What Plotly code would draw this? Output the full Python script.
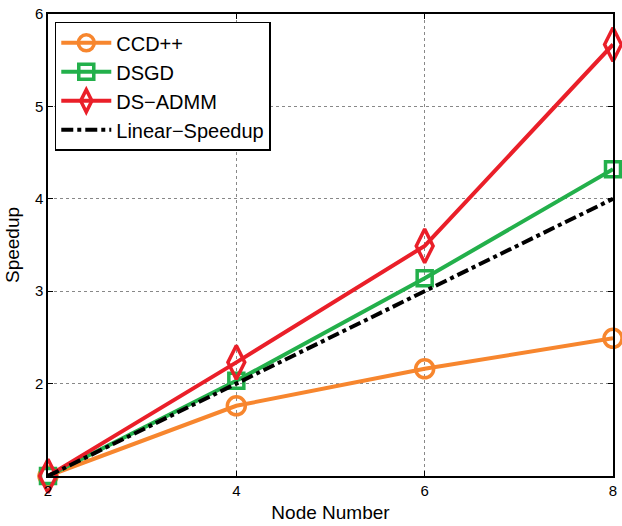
import plotly.graph_objects as go

nodes = [2, 4, 6, 8]
ccd = [1.0, 1.76, 2.16, 2.49]
dsgd = [1.0, 2.03, 3.14, 4.32]
dsadmm = [1.0, 2.23, 3.49, 5.67]
linear = [1, 2, 3, 4]

fig = go.Figure()
fig.add_trace(go.Scatter(x=nodes, y=ccd, name="CCD++", mode="lines+markers",
                         line=dict(color="#f7862e", width=4),
                         marker=dict(symbol="circle-open", size=18, line=dict(width=3.5, color="#f7862e")),
                         cliponaxis=False))
fig.add_trace(go.Scatter(x=nodes, y=dsgd, name="DSGD", mode="lines+markers",
                         line=dict(color="#23b04b", width=4),
                         marker=dict(symbol="square-open", size=15, line=dict(width=3.5, color="#23b04b")),
                         cliponaxis=False))
fig.add_trace(go.Scatter(x=nodes, y=dsadmm, name="DS\u2212ADMM", mode="lines+markers",
                         line=dict(color="#ea1f29", width=4),
                         marker=dict(symbol="diamond-tall-open", size=24, line=dict(width=3.5, color="#ea1f29")),
                         cliponaxis=False))
fig.add_trace(go.Scatter(x=nodes, y=linear, name="Linear\u2212Speedup", mode="lines",
                         line=dict(color="black", width=4, dash="dashdot"),
                         cliponaxis=False))

fig.update_layout(
    width=622, height=526,
    margin=dict(l=48, r=5, t=12, b=50),
    plot_bgcolor="white", paper_bgcolor="white",
    font=dict(family="Liberation Sans, Arial, sans-serif", color="black", size=15),
    showlegend=True,
    legend=dict(x=0.012, y=0.983, xanchor="left", yanchor="top",
                bgcolor="white", bordercolor="black", borderwidth=1.5,
                font=dict(size=20), tracegroupgap=0, itemwidth=50),
)
fig.update_xaxes(range=[2, 8], tickvals=[2, 4, 6, 8], showline=True, linecolor="black", linewidth=1.5,
                 mirror="ticks", ticks="inside", ticklen=5, tickcolor="black",
                 showgrid=True, gridcolor="#888888", griddash="dot", gridwidth=1, zeroline=False,
                 title=dict(text="Node Number", font=dict(size=19), standoff=8),
                 tickfont=dict(size=15))
fig.update_yaxes(range=[1, 6], tickvals=[2, 3, 4, 5, 6], showline=True, linecolor="black", linewidth=1.5,
                 mirror="ticks", ticks="inside", ticklen=5, tickcolor="black",
                 showgrid=True, gridcolor="#888888", griddash="dot", gridwidth=1, zeroline=False,
                 title=dict(text="Speedup", font=dict(size=19), standoff=10),
                 tickfont=dict(size=15))

fig.write_html("out.html")
